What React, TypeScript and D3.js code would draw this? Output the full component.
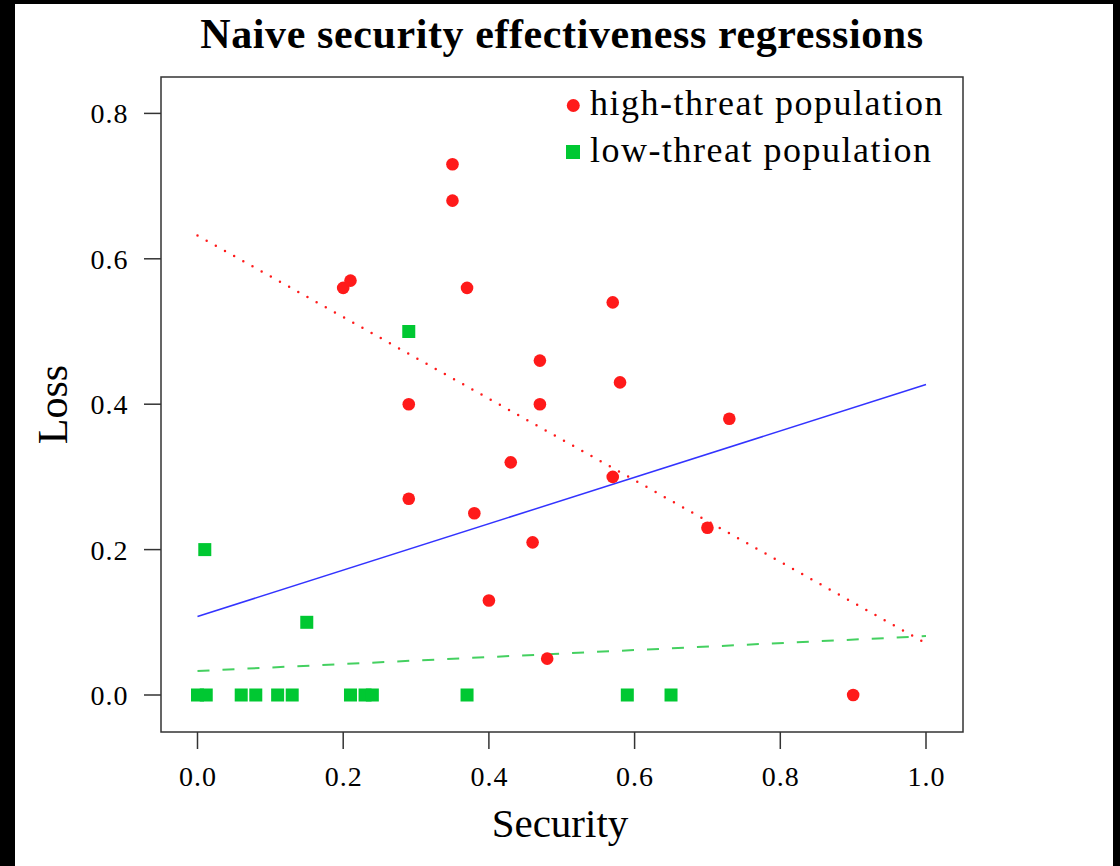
import React from "react";
import * as d3 from "d3";

const highX = [0.35, 0.35, 0.20, 0.21, 0.37, 0.57, 0.47, 0.58, 0.29, 0.47, 0.73, 0.43, 0.57, 0.29, 0.38, 0.70, 0.46, 0.40, 0.48, 0.90];
const highY = [0.73, 0.68, 0.56, 0.57, 0.56, 0.54, 0.46, 0.43, 0.40, 0.40, 0.38, 0.32, 0.30, 0.27, 0.25, 0.23, 0.21, 0.13, 0.05, 0.00];
const lowX = [0.29, 0.01, 0.15, 0.00, 0.012, 0.06, 0.08, 0.11, 0.13, 0.21, 0.23, 0.24, 0.37, 0.59, 0.65];
const lowY = [0.50, 0.20, 0.10, 0.00, 0.00, 0.00, 0.00, 0.00, 0.00, 0.00, 0.00, 0.00, 0.00, 0.00, 0.00];

// regression lines: [intercept, slope]
const pooledFit = [0.108, 0.319];
const highFit = [0.632, -0.561];
const lowFit = [0.033, 0.048];

const xTicks = [0.0, 0.2, 0.4, 0.6, 0.8, 1.0];
const yTicks = [0.0, 0.2, 0.4, 0.6, 0.8];
const legendLabels = ["high-threat population", "low-threat population"];

const W = 1120, H = 866;
const box = { left: 161, right: 963, top: 77, bottom: 732 };
const RED = "#ff1a1a";
const GREEN = "#00c832";
const FONT = "'Liberation Serif', 'Times New Roman', serif";

export default function App() {
  const x = d3.scaleLinear().domain([0, 1]).range([197.5, 926]);
  const y = d3.scaleLinear().domain([0, 0.8]).range([695, 113.4]);
  const fitLine = (f: number[]) => {
    const pts: [number, number][] = [0, 1].map((v) => [x(v), y(f[0] + f[1] * v)]);
    return d3.line()(pts) as string;
  };
  return (
    <div style={{ position: "fixed", left: 0, top: 0 }}>
      <svg width={W} height={H} style={{ display: "block" }}>
        <rect x={0} y={0} width={W} height={H} fill="#000" />
        <rect x={15} y={4} width={1098} height={H - 4} fill="#fff" />
        <text x={562} y={48} textAnchor="middle" fontFamily={FONT} fontWeight="bold" fontSize={42} letterSpacing={0.6}>
          Naive security effectiveness regressions
        </text>
        <rect x={box.left} y={box.top} width={box.right - box.left} height={box.bottom - box.top} fill="none" stroke="#333" strokeWidth={1.5} />
        {xTicks.map((t) => (
          <g key={"x" + t}>
            <line x1={x(t)} x2={x(t)} y1={box.bottom} y2={box.bottom + 17} stroke="#333" strokeWidth={1.5} />
            <text x={x(t) + 0.5} y={786} textAnchor="middle" fontFamily={FONT} fontSize={28} letterSpacing={1}>{t.toFixed(1)}</text>
          </g>
        ))}
        {yTicks.map((t) => (
          <g key={"y" + t}>
            <line x1={box.left} x2={box.left - 17} y1={y(t)} y2={y(t)} stroke="#333" strokeWidth={1.5} />
            <text x={128.5} y={y(t) + 10} textAnchor="end" fontFamily={FONT} fontSize={28} letterSpacing={1}>{t.toFixed(1)}</text>
          </g>
        ))}
        <text x={560} y={837} textAnchor="middle" fontFamily={FONT} fontSize={41}>Security</text>
        <text transform={`translate(67,${(box.top + box.bottom) / 2}) rotate(-90)`} textAnchor="middle" fontFamily={FONT} fontSize={42}>Loss</text>
        <path d={fitLine(pooledFit)} stroke="#3333ff" strokeWidth={1.5} fill="none" />
        <path d={fitLine(highFit)} stroke={RED} strokeWidth={2.5} strokeDasharray="0 10.5" strokeLinecap="round" fill="none" />
        <path d={fitLine(lowFit)} stroke="#44d060" strokeWidth={2} strokeDasharray="12 13" fill="none" />
        {highX.map((v, i) => (
          <circle key={"h" + i} cx={x(v)} cy={y(highY[i])} r={6.3} fill={RED} />
        ))}
        {lowX.map((v, i) => (
          <rect key={"l" + i} x={x(v) - 6.5} y={y(lowY[i]) - 6.5} width={13} height={13} fill={GREEN} />
        ))}
        <circle cx={573.3} cy={105.5} r={6.5} fill={RED} />
        <rect x={566} y={145} width={14} height={14} fill={GREEN} />
        <text x={590} y={115} fontFamily={FONT} fontSize={36} letterSpacing={1.5}>{legendLabels[0]}</text>
        <text x={590} y={162} fontFamily={FONT} fontSize={36} letterSpacing={1.5}>{legendLabels[1]}</text>
      </svg>
    </div>
  );
}
